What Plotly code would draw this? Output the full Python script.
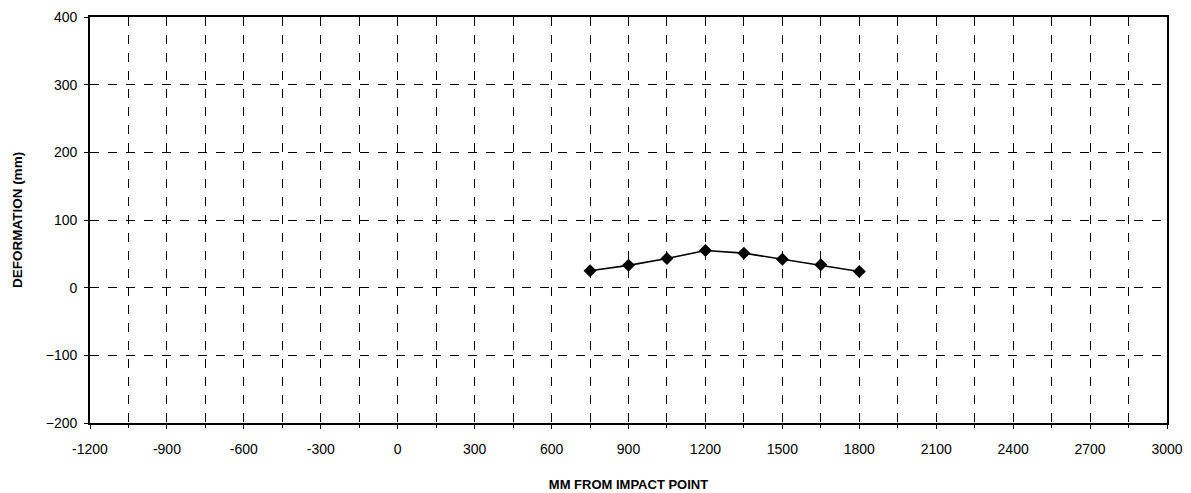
import plotly.graph_objects as go

x_mm = [750, 900, 1050, 1200, 1350, 1500, 1650, 1800]
deformation = [25, 33, 43, 55, 51, 42, 34, 24]
x_ticks = list(range(-1200, 3001, 300))
y_ticks = list(range(-200, 401, 100))

fig = go.Figure()
fig.add_trace(go.Scatter(
    x=x_mm, y=deformation, mode="lines+markers",
    line=dict(color="black", width=1.6),
    marker=dict(symbol="diamond", size=10, color="black"),
    showlegend=False,
))

fig.update_layout(
    width=1191, height=493,
    margin=dict(l=90, r=24, t=17, b=70),
    paper_bgcolor="white", plot_bgcolor="white",
    font=dict(family="Arial, Liberation Sans, sans-serif", color="black", size=14),
)
fig.update_xaxes(
    range=[-1200, 3000], tickvals=x_ticks, ticktext=[str(v) for v in x_ticks],
    showgrid=True, gridcolor="black", gridwidth=1, griddash="dash",
    minor=dict(dtick=150, tick0=-1200, showgrid=True, gridcolor="black",
               gridwidth=1, griddash="dash", ticks="outside", ticklen=3, tickcolor="black"),
    ticks="outside", ticklen=4, tickcolor="black",
    ticklabelstandoff=8,
    showline=True, linecolor="black", linewidth=1.6, mirror=True,
    zeroline=False, automargin=False,
    title=dict(text="<b>MM FROM IMPACT POINT</b>", font=dict(size=13), standoff=24),
    tickfont=dict(size=14),
)
fig.update_yaxes(
    range=[-200, 400], tickvals=y_ticks,
    showgrid=True, gridcolor="black", gridwidth=1, griddash="dash",
    ticks="outside", ticklen=4, tickcolor="black",
    ticklabelstandoff=4,
    showline=True, linecolor="black", linewidth=1.6, mirror=True,
    zeroline=False, automargin=False,
    title=dict(text="<b>DEFORMATION (mm)</b>", font=dict(size=13.5), standoff=20),
    tickfont=dict(size=14),
)

fig.write_html("out.html")
